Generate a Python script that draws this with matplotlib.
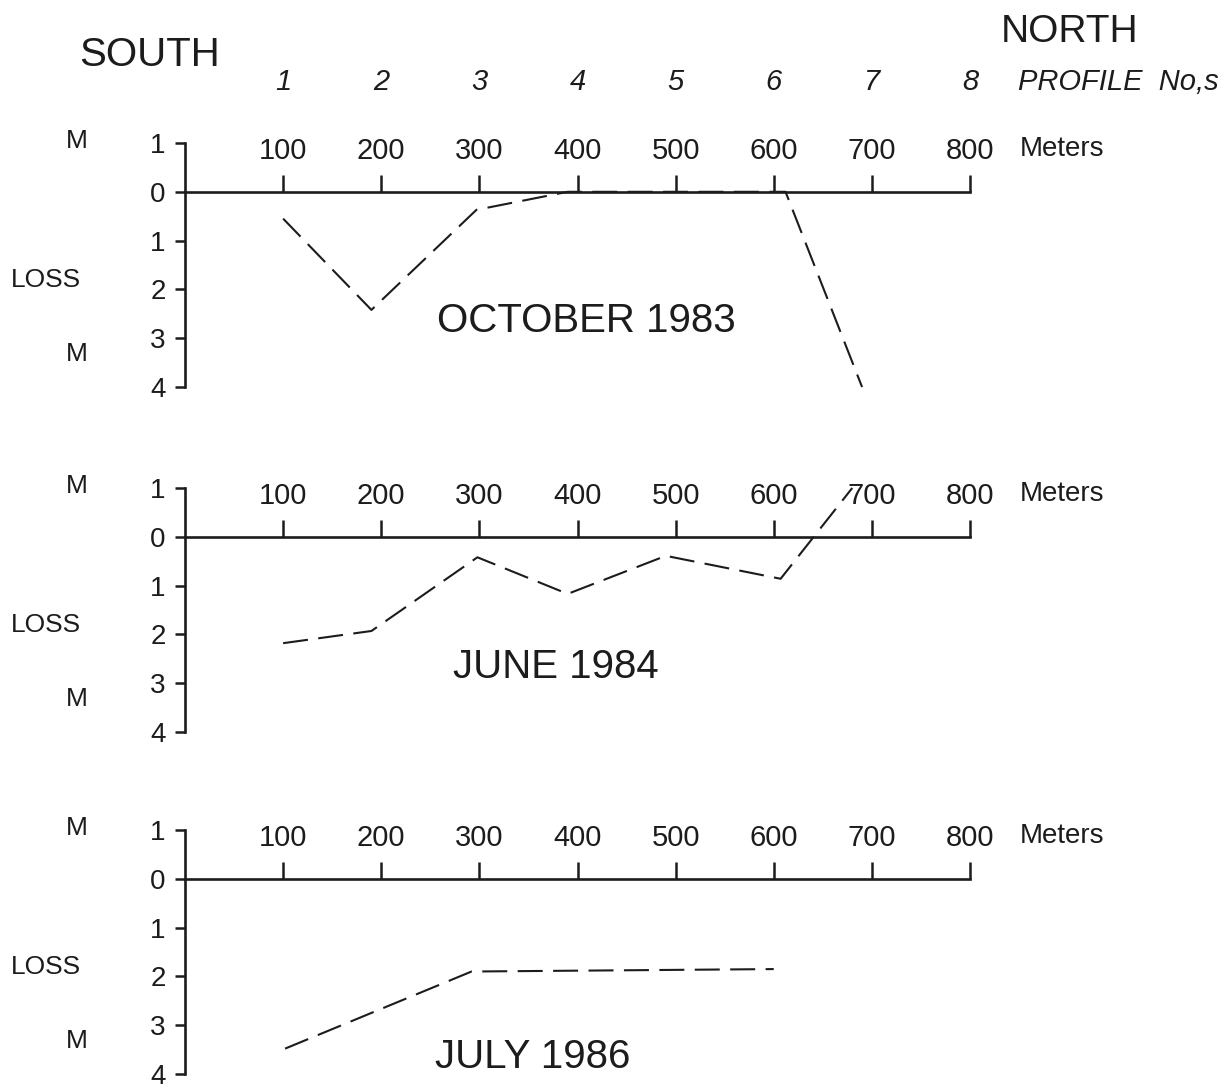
import matplotlib
matplotlib.use("Agg")
import matplotlib.pyplot as plt

# ---------------- data ----------------
distance_ticks = [100, 200, 300, 400, 500, 600, 700, 800]
distance_labels = ["100", "200", "300", "400", "500", "600", "700", "800"]
profile_labels = ["1", "2", "3", "4", "5", "6", "7", "8"]
loss_ticks = [-1, 0, 1, 2, 3, 4]
loss_tick_labels = ["1", "0", "1", "2", "3", "4"]

oct83_x = [100, 190, 297, 390, 500, 612, 690]
oct83_loss = [0.55, 2.42, 0.37, 0.0, 0.0, 0.0, 4.0]

jun84_x = [100, 190, 298, 390, 490, 607, 680]
jun84_loss = [2.18, 1.93, 0.42, 1.17, 0.39, 0.86, -1.0]

jul86_x = [102, 292, 600]
jul86_loss = [3.48, 1.90, 1.85]

panel_titles = ["OCTOBER 1983", "JUNE 1984", "JULY 1986"]
panel_title_pos = [(257, 2.65), (273, 2.67), (255, 3.65)]
series_x = [oct83_x, jun84_x, jul86_x]
series_loss = [oct83_loss, jun84_loss, jul86_loss]

# ---------------- layout ----------------
W, H = 1224, 1090
INK = "#1c1c1c"
plt.rcParams["font.family"] = ["Liberation Sans", "DejaVu Sans"]

fig = plt.figure(figsize=(W / 100, H / 100), dpi=100)

x0_px = 185.0
px_per_m = 785.0 / 800.0
px_per_unit = 48.8
top_value_px = [143, 488, 830]   # pixel row of the "1" (gain) tick in each panel
ytop, ybot = -1.3, 4.3
xmax = 900

for i in range(3):
    ax_top_px = top_value_px[i] + (ytop + 1) * px_per_unit
    ax_bot_px = top_value_px[i] + (ybot + 1) * px_per_unit
    left = x0_px / W
    width = xmax * px_per_m / W
    bottom = 1 - ax_bot_px / H
    height = (ax_bot_px - ax_top_px) / H
    ax = fig.add_axes([left, bottom, width, height])
    ax.set_xlim(0, xmax)
    ax.set_ylim(ybot, ytop)
    ax.patch.set_alpha(0)

    for s in ["right", "bottom"]:
        ax.spines[s].set_visible(False)
    ax.spines["left"].set_bounds(-1, 4)
    ax.spines["left"].set_linewidth(1.9)
    ax.spines["left"].set_color(INK)
    ax.spines["top"].set_position(("data", 0))
    ax.spines["top"].set_bounds(0, 800)
    ax.spines["top"].set_linewidth(1.9)
    ax.spines["top"].set_color(INK)

    ax.xaxis.set_ticks_position("top")
    ax.set_xticks(distance_ticks)
    ax.set_xticklabels(distance_labels)
    ax.tick_params(axis="x", direction="out", length=12, width=1.8,
                   pad=7, labelsize=21, colors=INK)
    ax.set_yticks(loss_ticks)
    ax.set_yticklabels(loss_tick_labels)
    ax.tick_params(axis="y", direction="out", length=7, width=1.8,
                   pad=7, labelsize=20, colors=INK)

    ax.plot(series_x[i], series_loss[i], color=INK, lw=1.5,
            linestyle=(0, (12, 5)), clip_on=False)

    ax.text(851, -0.87, "Meters", ha="left", va="center", fontsize=20,
            color=INK, clip_on=False)
    ax.text(-110, -1.05, "M", ha="center", va="center", fontsize=19,
            color=INK, clip_on=False)
    ax.text(-142, 1.8, "LOSS", ha="center", va="center", fontsize=19,
            color=INK, clip_on=False)
    ax.text(-110, 3.33, "M", ha="center", va="center", fontsize=19,
            color=INK, clip_on=False)
    tx, ty = panel_title_pos[i]
    ax.text(tx, ty, panel_titles[i], ha="left", va="center", fontsize=29,
            color=INK, clip_on=False)

    if i == 0:
        for xm, lab in zip(distance_ticks, profile_labels):
            ax.text(xm, -2.26, lab, ha="center", va="center", fontsize=21,
                    style="italic", color=INK, clip_on=False)
        ax.text(849, -2.26, "PROFILE  No,s", ha="left", va="center",
                fontsize=21, style="italic", color=INK, clip_on=False)

fig.text(150 / W, 1 - 55 / H, "SOUTH", ha="center", va="center",
         fontsize=29, color=INK)
fig.text(1070 / W, 1 - 32 / H, "NORTH", ha="center", va="center",
         fontsize=28, color=INK)

fig.savefig("out.png", dpi=100, facecolor="white")
